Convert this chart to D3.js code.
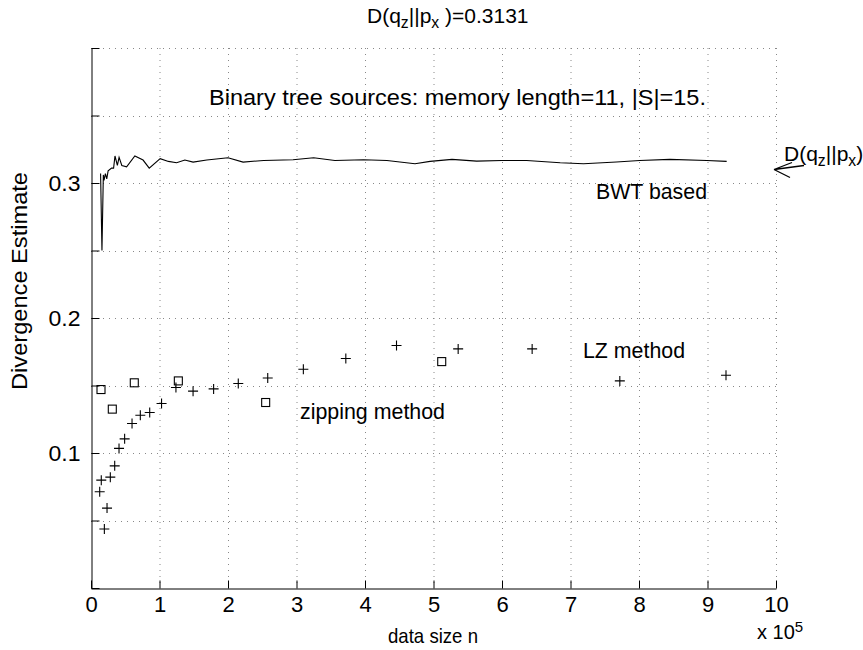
<!DOCTYPE html>
<html><head><meta charset="utf-8">
<script src="https://cdn.jsdelivr.net/npm/d3@7"></script>
<style>
body{margin:0;background:#fff;}
text{font-family:"Liberation Sans",Arial,sans-serif;fill:#000;}
</style></head>
<body><svg id="c" width="863" height="650"></svg>
<script>
// data (x in units of 1e5)
const bwtX = [0.14,0.16,0.18,0.19,0.21,0.23,0.25,0.30,0.33,0.35,0.385,0.41,0.45,0.52,0.64,0.76,0.85,1.01,1.13,1.25,1.37,1.49,1.69,2.0,2.22,2.52,2.95,3.25,3.56,3.98,4.32,4.73,4.95,5.27,5.63,6.0,6.36,6.85,7.19,7.67,8.01,8.45,8.99,9.28];
const bwtY = [0.307,0.250,0.306,0.302,0.307,0.303,0.309,0.311,0.311,0.320,0.313,0.319,0.313,0.312,0.320,0.317,0.311,0.318,0.316,0.315,0.317,0.3155,0.317,0.3187,0.3155,0.3167,0.3172,0.3187,0.3167,0.3172,0.3167,0.3143,0.316,0.3175,0.3162,0.3167,0.3167,0.315,0.3143,0.3155,0.3167,0.3175,0.3167,0.316];
const lzX = [0.127,0.15,0.195,0.234,0.282,0.346,0.409,0.491,0.599,0.72,0.857,1.03,1.24,1.49,1.79,2.15,2.58,3.10,3.72,4.46,5.36,6.44,7.72,9.27];
const lzY = [0.0713,0.0799,0.0437,0.0592,0.0821,0.0905,0.1034,0.1105,0.1219,0.128,0.130,0.1367,0.1485,0.1458,0.1475,0.1515,0.1556,0.162,0.170,0.1796,0.1771,0.1771,0.1534,0.1576];
const zipX = [0.146,0.311,0.632,1.275,2.55,5.12];
const zipY = [0.147,0.1325,0.152,0.1534,0.1374,0.1677];
const xTicks = [0,1,2,3,4,5,6,7,8,9,10];
const yTicks = [0,0.05,0.1,0.15,0.2,0.25,0.3,0.35,0.4];
const yLabels = [0.1,0.2,0.3];
const dTrue = 0.31;

const svg = d3.select("#c");
const L=91,R=776,T=48,B=588;
const x = d3.scaleLinear().domain([0,10]).range([L,R]);
const y = d3.scaleLinear().domain([0,0.4]).range([B,T]);

// grid
const g = svg.append("g").attr("stroke","#888").attr("stroke-width",1).attr("stroke-dasharray","1,5");
xTicks.filter(d=>d>0).forEach(d=>g.append("line").attr("x1",x(d)+0.5).attr("x2",x(d)+0.5).attr("y1",T).attr("y2",B));
yTicks.filter(d=>d>0).forEach(d=>g.append("line").attr("x1",L).attr("x2",R).attr("y1",Math.round(y(d))+0.5).attr("y2",Math.round(y(d))+0.5));

// axes
const xa = d3.axisBottom(x).tickValues(xTicks).tickSizeInner(-8).tickSizeOuter(0).tickPadding(14).tickFormat(d3.format("d"));
const gx = svg.append("g").attr("transform",`translate(0,${B+0.5})`).call(xa);
gx.select(".domain").attr("stroke","#000");
gx.selectAll(".tick line").attr("stroke","#000");
gx.selectAll("text").style("font-size","22px").attr("font-family","Liberation Sans, Arial").attr("dy","0.71em").attr("y",8);
const ya = d3.axisLeft(y).tickValues(yTicks).tickSizeInner(-8).tickSizeOuter(0).tickPadding(12).tickFormat(d=>yLabels.some(v=>Math.abs(v-d)<1e-9)?d3.format(".1f")(d):"");
const gy = svg.append("g").attr("transform",`translate(${L+0.5},0)`).call(ya);
gy.select(".domain").attr("stroke","#000");
gy.selectAll(".tick line").attr("stroke","#000");
gy.selectAll("text").style("font-size","22px").attr("font-family","Liberation Sans, Arial").attr("x",-11).attr("textLength",32).attr("lengthAdjust","spacingAndGlyphs");

// BWT line
const line = d3.line().x((d,i)=>x(bwtX[i])).y(d=>y(d));
svg.append("path").attr("d",line(bwtY)).attr("fill","none").attr("stroke","#000").attr("stroke-width",1.1);

// LZ plus markers
svg.append("g").selectAll("path").data(lzY).join("path")
  .attr("d",(d,i)=>{const cx=x(lzX[i]),cy=y(d);return `M${cx-5},${cy}H${cx+5}M${cx},${cy-5}V${cy+5}`;})
  .attr("stroke","#000").attr("stroke-width",1.1).attr("fill","none");
// zipping squares
svg.append("g").selectAll("rect").data(zipY).join("rect")
  .attr("x",(d,i)=>x(zipX[i])-4).attr("y",d=>y(d)-4).attr("width",8).attr("height",8)
  .attr("fill","none").attr("stroke","#000").attr("stroke-width",1.1);

// texts
function sub(t,parts,fs){
  parts.forEach(p=>{
    const ts=t.append("tspan").text(p[0]);
    if(p[1]==="sub") ts.attr("baseline-shift","-30%").style("font-size",(fs*0.75)+"px");
    if(p[1]==="sup") ts.attr("baseline-shift","45%").style("font-size",(fs*0.75)+"px");
  });
}
let t = svg.append("text").attr("x",367).attr("y",23).style("font-size","21px");
sub(t,[["D(q"],["z","sub"],["||p"],["x","sub"],[" )=0.3131"]],21);

const LA="spacingAndGlyphs";
svg.append("text").attr("x",209).attr("y",105).style("font-size","22px").attr("textLength",497).attr("lengthAdjust",LA).text("Binary tree sources: memory length=11, |S|=15.");
svg.append("text").attr("x",596).attr("y",199).style("font-size","22px").attr("textLength",111).attr("lengthAdjust",LA).text("BWT based");
svg.append("text").attr("x",583).attr("y",358).style("font-size","22px").attr("textLength",102).attr("lengthAdjust",LA).text("LZ method");
svg.append("text").attr("x",300).attr("y",419).style("font-size","22px").attr("textLength",145).attr("lengthAdjust",LA).text("zipping method");
svg.append("text").attr("x",388).attr("y",643).style("font-size","21px").attr("textLength",90).attr("lengthAdjust",LA).text("data size n");
t = svg.append("text").attr("x",757).attr("y",639).style("font-size","20px");
sub(t,[["x 10"],["5","sup"]],20);
svg.append("text").attr("transform","translate(27,281) rotate(-90)").attr("text-anchor","middle").style("font-size","22px").attr("textLength",218).attr("lengthAdjust",LA).text("Divergence  Estimate");

// arrow label
t = svg.append("text").attr("x",784).attr("y",161).style("font-size","21px");
sub(t,[["D(q"],["z","sub"],["||p"],["x","sub"],[")"]],21);
const ax=x(10)-2, ay=y(dTrue);
svg.append("path").attr("d",`M${ax},${ay}L${ax+30},${ay-4}M${ax},${ay}L${ax+18},${ay-7}M${ax},${ay}L${ax+16},${ay+8}`)
  .attr("stroke","#000").attr("stroke-width",1.3).attr("fill","none");
</script></body></html>
